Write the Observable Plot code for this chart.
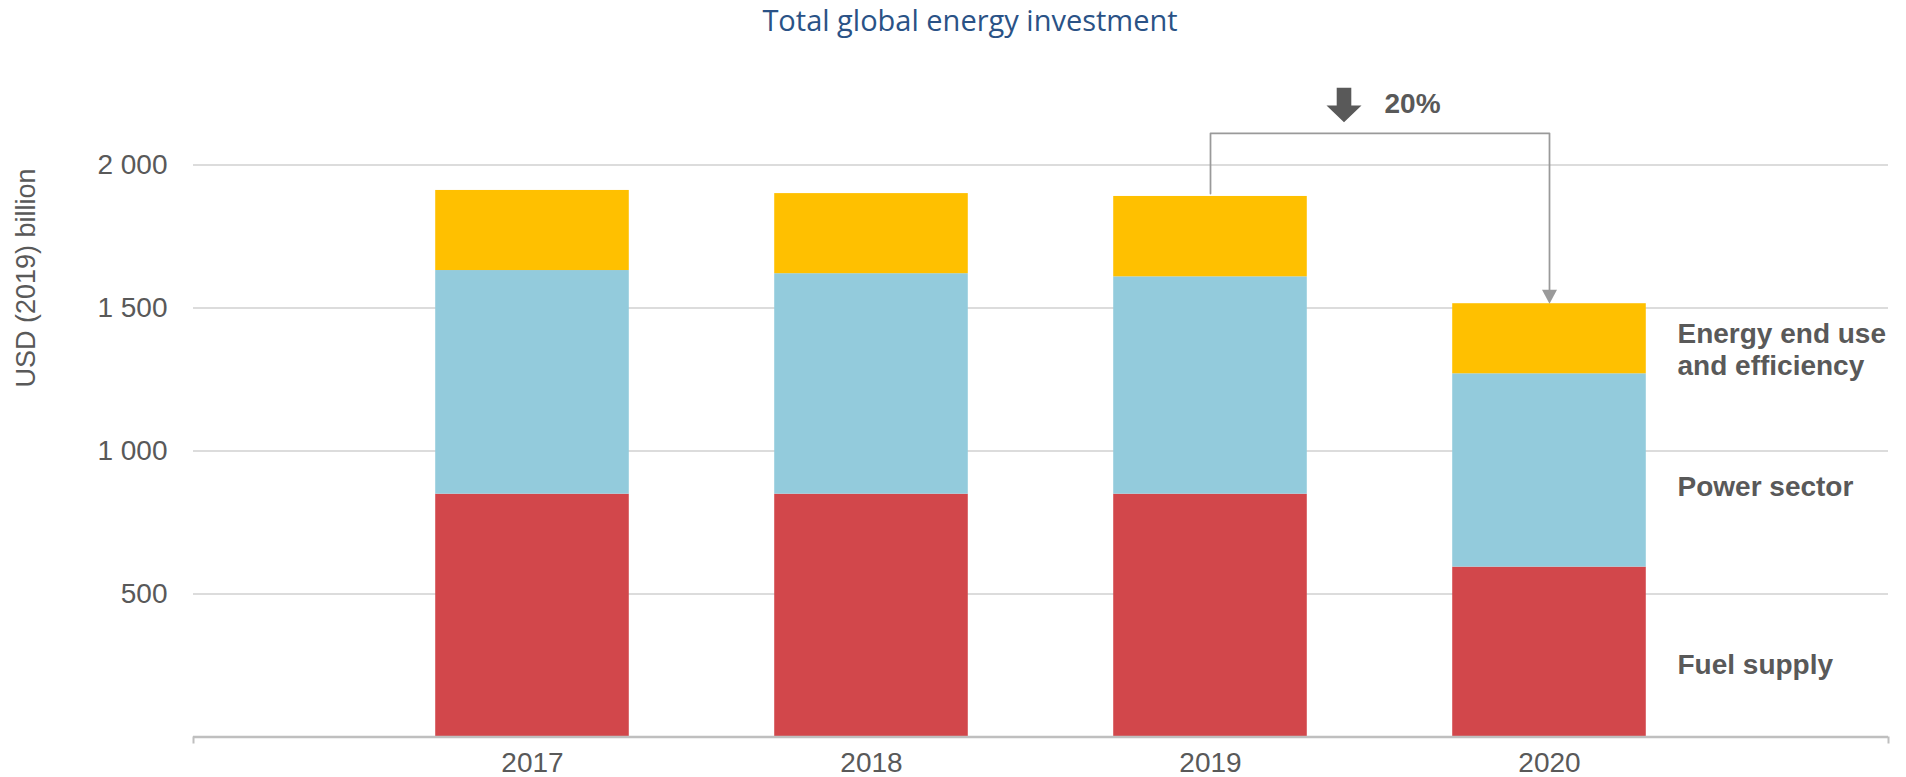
<!DOCTYPE html>
<html><head><meta charset="utf-8">
<script src="https://cdn.jsdelivr.net/npm/d3@7"></script>
<script src="https://cdn.jsdelivr.net/npm/@observablehq/plot@0.6"></script>
<style>
body{margin:0;background:#fff;}
#title{height:40px;line-height:40px;font-family:"Open Sans",sans-serif;font-size:29px;color:#2a5286;text-align:center;padding-left:34px;box-sizing:border-box;width:1906px;white-space:nowrap;}
</style></head><body>
<div id="title">Total global energy investment</div>
<div id="chart"></div>
<script>
const years = [2017, 2018, 2019, 2020];
const seriesNames = ["Fuel supply", "Power sector", "Energy end use and efficiency"];
const seriesLabels = ["Fuel supply", "Power sector", "Energy end use\nand efficiency"];
const fuelSupply = [849, 849, 849, 594];
const powerSector = [782, 771, 760, 676];
const endUseEfficiency = [280, 280, 281, 245];
const yTicks = [500, 1000, 1500, 2000];
const seriesColors = ["#d2474b", "#93cbdc", "#ffc000"];
const axisTitle = "USD (2019) billion";

const seriesValues = [fuelSupply, powerSector, endUseEfficiency];
const rows = [];
years.forEach((year, i) => {
  let base = 0;
  seriesNames.forEach((s, j) => {
    const v = seriesValues[j][i];
    rows.push({year, series: s, y1: base, y2: base + v});
    base += v;
  });
});
const totals = years.map((_, i) => fuelSupply[i] + powerSector[i] + endUseEfficiency[i]);
const n = years.length;
const fromYear = years[n - 2], toYear = years[n - 1];
const fromTotal = totals[n - 2], toTotal = totals[n - 1];
const drop = (fromTotal - toTotal) / fromTotal;
const level = d3.max(totals) + 200;
const midYear = (fromYear + toYear) / 2;
const bracket = [
  {x: fromYear, y: fromTotal + 10},
  {x: fromYear, y: level},
  {x: toYear, y: level},
  {x: toYear, y: toTotal + 30}
];
const gray = "#595959";
const lineGray = "#9a9a9a";

const downTriangle = {draw(ctx) { ctx.moveTo(-7.5, -14); ctx.lineTo(7.5, -14); ctx.lineTo(0, 0); ctx.closePath(); }};
const blockArrow = {draw(ctx) {
  ctx.moveTo(-7.3, -17.2); ctx.lineTo(7.3, -17.2); ctx.lineTo(7.3, 0.5);
  ctx.lineTo(17.5, 0.5); ctx.lineTo(0, 17.2); ctx.lineTo(-17.5, 0.5);
  ctx.lineTo(-7.3, 0.5); ctx.closePath();
}};

const fmt = d => d3.format(",")(d).replace(/,/g, " ");
const last = rows.filter(r => r.year === toYear);
const labelDy = [12, 15, 10];

const marks = [
  Plot.ruleY(yTicks, {stroke: "#dcdcdc", strokeWidth: 2}),
  Plot.rectY(rows, {x1: d => d.year - 0.2855, x2: d => d.year + 0.2855, y1: "y1", y2: "y2", fill: "series"}),
  Plot.ruleY([0], {stroke: "#bfbfbf", strokeWidth: 2.5}),
  Plot.ruleX([years[0] - 1, toYear + 1], {y1: 0, y2: 0, insetBottom: -7, stroke: "#bfbfbf", strokeWidth: 2}),
  Plot.line(bracket, {x: "x", y: "y", stroke: lineGray, strokeWidth: 1.75}),
  Plot.dot([{x: toYear, y: toTotal}], {x: "x", y: "y", symbol: downTriangle, fill: lineGray, r: 8}),
  Plot.dot([{x: midYear, y: level}], {x: "x", y: "y", symbol: blockArrow, fill: gray, r: 10, dx: -36, dy: -28.3}),
  Plot.text([d3.format(".0%")(drop)], {x: midYear, y: level, text: d => d, textAnchor: "start", dx: 4.5, dy: -29.3, fontSize: 28, fontWeight: "bold", fill: gray}),
  ...last.map((r, j) => Plot.text([r], {x: "year", y: d => (d.y1 + d.y2) / 2, text: () => seriesLabels[j], textAnchor: "start", dx: 128, dy: labelDy[j], fontSize: 28, fontWeight: "bold", fill: gray, lineHeight: 1.15})),
  Plot.text([axisTitle], {frameAnchor: "top-left", text: d => d, rotate: -90, textAnchor: "end", dx: -178, dy: 3.5, fontSize: 27, fill: gray})
];

const chart = Plot.plot({
  width: 1906,
  height: 737,
  marginLeft: 193,
  marginRight: 18,
  marginTop: 124.5,
  marginBottom: 40.5,
  style: {fontFamily: "'Liberation Sans', Arial, sans-serif", fontSize: "28px", color: gray, background: "white", overflow: "visible"},
  x: {domain: [years[0] - 1, toYear + 1], ticks: years, tickFormat: d => String(d), tickSize: 0, tickPadding: 15, label: null},
  y: {domain: [0, 2000], ticks: yTicks, tickFormat: fmt, tickSize: 0, tickPadding: 26, label: null},
  color: {domain: seriesNames, range: seriesColors},
  marks
});
document.getElementById("chart").appendChild(chart);
</script>
</body></html>
